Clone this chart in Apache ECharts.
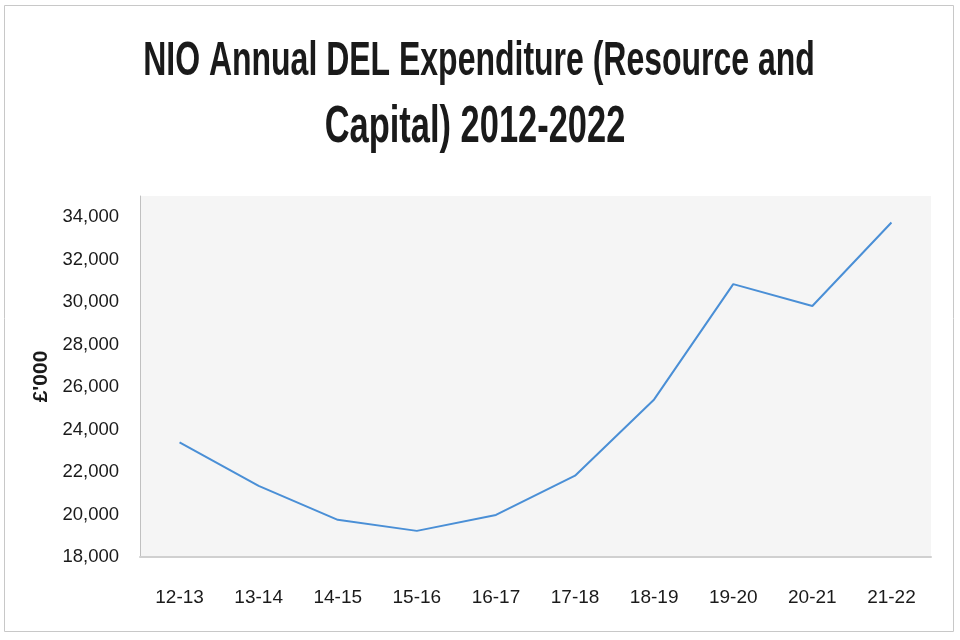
<!DOCTYPE html>
<html>
<head>
<meta charset="utf-8">
<script src="https://cdn.jsdelivr.net/npm/echarts@6/dist/echarts.min.js"></script>
<style>
html,body{margin:0;padding:0;background:#fff;}
#c{width:960px;height:640px;}
</style>
</head>
<body>
<div id="c"></div>
<script>
const titleLines = ['NIO Annual DEL Expenditure (Resource and', 'Capital) 2012-2022'];
const yAxisName = "£'000";
const categories = ['12-13','13-14','14-15','15-16','16-17','17-18','18-19','19-20','20-21','21-22'];
const expenditure = [23400, 21350, 19750, 19230, 19980, 21830, 25420, 30850, 29820, 33750];
const yMin = 18000, yMax = 35000, yStep = 2000;

const chart = echarts.init(document.getElementById('c'));
const fam = '"Liberation Sans", Arial, sans-serif';
chart.setOption({
  backgroundColor: '#ffffff',
  animation: false,
  graphic: [
    { type: 'rect', shape: { x: 4.5, y: 5.5, width: 949, height: 626 }, style: { fill: 'none', stroke: '#c8c8c8', lineWidth: 1 }, silent: true },
    { type: 'text', x: 479, y: 62, scaleX: 0.82, scaleY: 1.25, style: { text: titleLines[0], fill: '#1a1a1a', font: 'bold 39px ' + fam, textAlign: 'center', textVerticalAlign: 'middle' } },
    { type: 'text', x: 475, y: 128, scaleX: 0.84, scaleY: 1.25, style: { text: titleLines[1], fill: '#1a1a1a', font: 'bold 41px ' + fam, textAlign: 'center', textVerticalAlign: 'middle' } }
  ],
  grid: { left: 140, right: 29, top: 196, bottom: 83, show: true, backgroundColor: '#f5f5f5', borderWidth: 0 },
  xAxis: {
    type: 'category',
    data: categories,
    boundaryGap: true,
    axisLine: { show: true, lineStyle: { color: '#d0d0d0', width: 2 } },
    axisTick: { show: false },
    axisLabel: { color: '#1a1a1a', fontFamily: fam, fontSize: 19, margin: 31 },
    splitLine: { show: false }
  },
  yAxis: {
    type: 'value',
    min: yMin, max: yMax, interval: yStep,
    name: yAxisName,
    nameLocation: 'middle',
    nameGap: 68,
    nameTextStyle: { color: '#1a1a1a', fontFamily: fam, fontSize: 21, fontWeight: 'bold' },
    axisLine: { show: true, lineStyle: { color: '#c0c0c0', width: 1 } },
    axisTick: { show: false },
    splitLine: { show: false },
    axisLabel: {
      color: '#1a1a1a', fontFamily: fam, fontSize: 18.5, margin: 21, showMaxLabel: false,
      formatter: v => (v % yStep === 0 ? v.toLocaleString('en-US') : '')
    }
  },
  series: [{
    type: 'line',
    data: expenditure,
    showSymbol: false,
    symbol: 'none',
    lineStyle: { color: '#4a8fd6', width: 2 },
    itemStyle: { color: '#4a8fd6' }
  }]
});
</script>
</body>
</html>
